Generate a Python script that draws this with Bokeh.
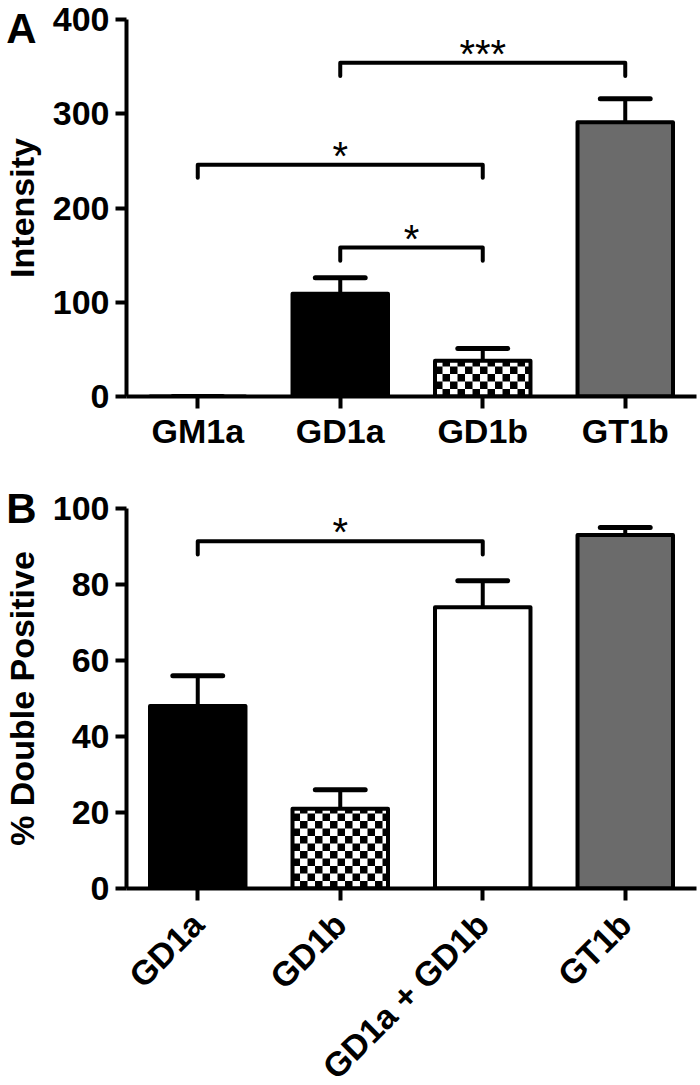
import math
from bokeh.plotting import figure
from bokeh.models import Range1d, FixedTicker, LinearAxis
from bokeh.layouts import column
from bokeh.core.properties import value
from bokeh.embed import file_html
from bokeh.resources import INLINE

# ---------------- data ----------------
a_categories = ["GM1a", "GD1a", "GD1b", "GT1b"]
a_values = [0, 109, 38, 291]
a_errors = [0, 17, 13, 25]
a_fills = ["black", "black", "checker", "#6b6b6b"]
a_ticks = [0, 100, 200, 300, 400]
a_brackets_from = [1, 0, 1]
a_brackets_to = [3, 2, 2]
a_brackets_height = [354, 246, 158]
a_brackets_label = ["***", "*", "*"]

b_categories = ["GD1a", "GD1b", "GD1a + GD1b", "GT1b"]
b_values = [48, 21, 74, 93]
b_errors = [8, 5, 7, 2]
b_fills = ["black", "checker", "white", "#6b6b6b"]
b_ticks = [0, 20, 40, 60, 80, 100]
b_brackets_from = [0]
b_brackets_to = [2]
b_brackets_height = [91.4]
b_brackets_label = ["*"]

FONT = "Liberation Sans"
FRAME_W = 570
BAR_W = 0.67
CAP_HALF = 0.175


def style_axis(ax):
    ax.axis_line_width = 4
    ax.axis_line_color = "black"
    ax.major_tick_line_width = 4
    ax.major_tick_line_color = "black"
    ax.major_tick_in = 0
    ax.minor_tick_in = 0
    ax.minor_tick_out = 0
    ax.major_label_text_font = FONT
    ax.major_label_text_font_style = "bold"
    ax.major_label_text_font_size = "34px"
    ax.major_label_text_color = "black"


def checker_cells(xc, top, w, px_x, px_y, cell=7.5):
    left = xc - w / 2
    right = xc + w / 2
    cw = cell / px_x
    ch = cell / px_y
    ncols = int(math.ceil(w / cw))
    nrows = int(math.ceil(top / ch))
    L, R, B, T = [], [], [], []
    for r in range(nrows):
        for c in range(ncols):
            if (r + c) % 2 == 1:
                l = left + c * cw
                rr = min(l + cw, right)
                b = r * ch
                t = min(b + ch, top)
                L.append(l); R.append(rr); B.append(b); T.append(t)
    return L, R, B, T


def make_panel(cats, vals, errs, fills, ticks, ymax, frame_h, bf, bt, bh, bl,
               drop, letter, ylabel, rotate, top_border, bottom_border,
               xlabel_standoff):
    p = figure(frame_width=FRAME_W, frame_height=frame_h,
               x_range=Range1d(-0.5, 3.5), y_range=Range1d(0, ymax),
               output_backend="svg", toolbar_location=None,
               min_border_left=117, min_border_right=5,
               min_border_top=top_border, min_border_bottom=bottom_border)
    p.xgrid.visible = False
    p.ygrid.visible = False
    p.outline_line_color = None
    p.background_fill_color = "white"
    p.border_fill_color = "white"

    xax = p.xaxis[0]
    yax = p.yaxis[0]
    style_axis(xax)
    style_axis(yax)
    xax.major_tick_out = 12
    xax.major_label_standoff = xlabel_standoff
    xax.ticker = FixedTicker(ticks=list(range(len(cats))))
    xax.major_label_overrides = {i: c for i, c in enumerate(cats)}
    if rotate:
        xax.major_label_orientation = math.pi / 4
    yax.major_tick_out = 11
    yax.major_label_standoff = 6
    yax.ticker = FixedTicker(ticks=ticks)

    # outer left axis: panel letter + axis title in the same column
    ax2 = LinearAxis(ticker=FixedTicker(ticks=[ymax]),
                     major_label_overrides={ymax: letter},
                     axis_line_color=None, major_tick_line_color=None,
                     minor_tick_line_color=None,
                     major_tick_out=0, major_tick_in=0,
                     minor_tick_out=0, minor_tick_in=0,
                     major_label_standoff=13,
                     major_label_text_font=FONT,
                     major_label_text_font_style="bold",
                     major_label_text_font_size="42px",
                     major_label_text_color="black",
                     axis_label=ylabel, axis_label_standoff=-38,
                     axis_label_text_font=FONT,
                     axis_label_text_font_style="bold",
                     axis_label_text_font_size="34px",
                     axis_label_text_color="black")
    p.add_layout(ax2, "left")

    xs = list(range(len(cats)))
    px_x = FRAME_W / 4.0
    px_y = frame_h / float(ymax)

    # error bars
    tops = [v + e for v, e in zip(vals, errs)]
    p.segment(x0=xs, y0=vals, x1=xs, y1=tops, line_color="black", line_width=4)
    p.segment(x0=[x - CAP_HALF for x in xs], y0=tops,
              x1=[x + CAP_HALF for x in xs], y1=tops,
              line_color="black", line_width=5, line_cap="round")

    # bar fills
    fill_cols = ["white" if f == "checker" else f for f in fills]
    p.vbar(x=xs, top=vals, bottom=0, width=BAR_W, fill_color=fill_cols,
           line_color=None)
    # checker texture
    L, R, B, T = [], [], [], []
    for x, v, f in zip(xs, vals, fills):
        if f == "checker":
            l, r, b, t = checker_cells(x, v, BAR_W, px_x, px_y)
            L += l; R += r; B += b; T += t
    if L:
        p.quad(left=L, right=R, bottom=B, top=T, fill_color="black",
               line_color=None)
    # bar outlines
    p.vbar(x=xs, top=vals, bottom=0, width=BAR_W, fill_color=None,
           line_color="black", line_width=4, line_join="round")

    # significance brackets
    bx, by = [], []
    for f, t, h in zip(bf, bt, bh):
        bx.append([f, f, t, t])
        by.append([h - drop, h, h, h - drop])
    p.multi_line(xs=bx, ys=by, line_color="black", line_width=4,
                 line_join="round", line_cap="round")
    p.text(x=[(f + t) / 2 for f, t in zip(bf, bt)],
           y=[h + 9.0 / px_y for h in bh], text=bl,
           text_font=value(FONT), text_font_size=value("40px"),
           text_align="center", text_baseline="alphabetic",
           text_color="black")
    return p


pA = make_panel(a_categories, a_values, a_errors, a_fills, a_ticks, 400, 377,
                a_brackets_from, a_brackets_to, a_brackets_height,
                a_brackets_label, 14, "A", "Intensity", False, 19, 50, 3)
pB = make_panel(b_categories, b_values, b_errors, b_fills, b_ticks, 100, 380,
                b_brackets_from, b_brackets_to, b_brackets_height,
                b_brackets_label, 3.5, "B", "% Double Positive", True, 56, 150,
                18)

layout = column(pA, pB)
open("out.html", "w").write(file_html(layout, INLINE))
